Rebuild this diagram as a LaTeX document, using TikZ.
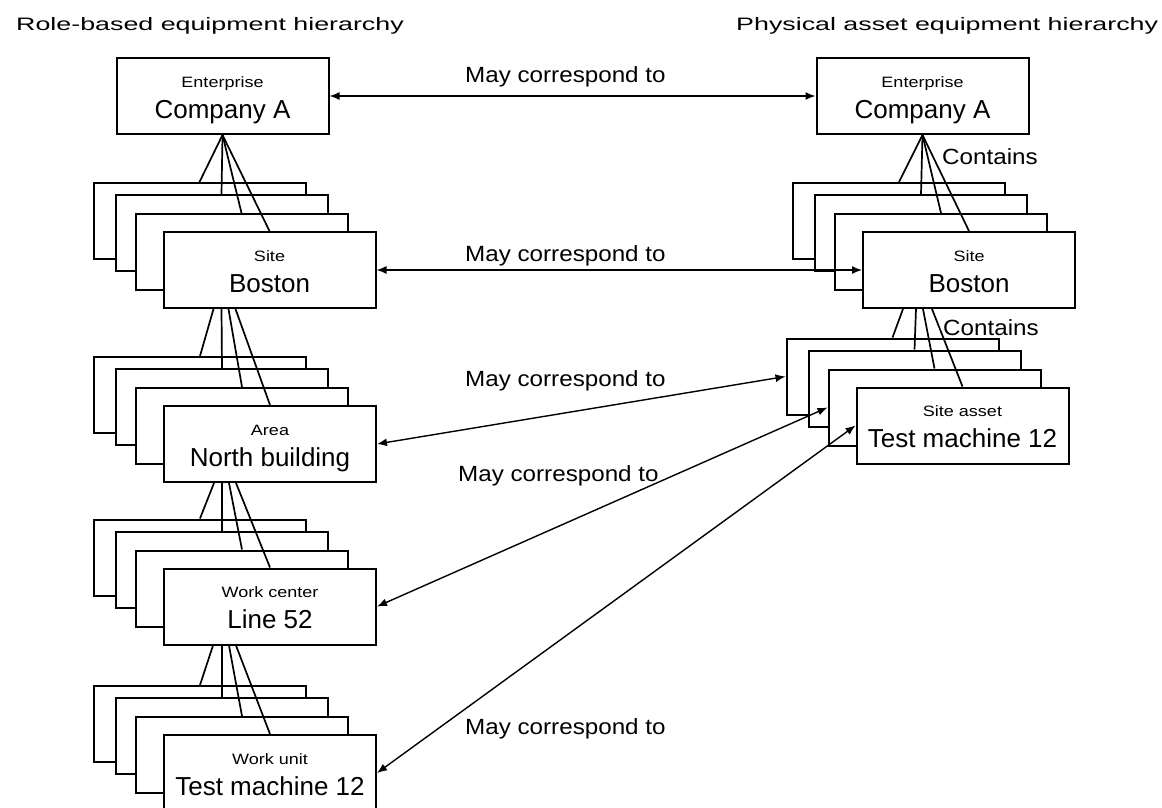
\documentclass[tikz,border=0pt]{standalone}
\usepackage{fontspec}
\setmainfont{Liberation Sans}
\newfontfamily\titlefont[FakeStretch=1.49]{Liberation Sans}
\newfontfamily\kindfont[FakeStretch=1.2]{Liberation Sans}
\newfontfamily\notefont[FakeStretch=1.1]{Liberation Sans}
\usetikzlibrary{arrows.meta}

\tikzset{
    card/.style={draw, fill=white, line width=2pt, inner sep=0pt,
        minimum width=212pt, minimum height=76pt},
    link/.style={line width=1.7pt},
    corr/.style={{Latex[length=10pt,width=8pt]}-{Latex[length=10pt,width=8pt]}, line width=1.4pt},
    note/.style={font={\notefont\fontsize{22}{26}\selectfont}, inner sep=0pt, anchor=base west},
    heading/.style={font={\titlefont\fontsize{18}{22}\selectfont}, inner sep=0pt, anchor=base west}
}

% kind of equipment above, its name below
\newcommand{\cardtext}[2]{\smash{%
    \makebox[0pt]{\raisebox{8.6pt}{\kindfont\fontsize{15}{15}\selectfont #1}}%
    \makebox[0pt]{\raisebox{-22.3pt}{\fontsize{26}{26}\selectfont #2}}}}

% a card with three more cards behind it
\newcommand{\cardstack}[4]{%
    \foreach \dx/\dy/\k in {-70/-49/1,-48/-37/2,-28/-18/3}
        { \node[card] (#1\k) at ([shift={(\dx,\dy)}]#2,#3) {}; }
    \node[card] (#1) at (#2,#3) {#4};}

\begin{document}
\begin{tikzpicture}[x=1pt,y=-1pt]
    \useasboundingbox (0,0) rectangle (1162,807);

    \node[heading] (titleL) at (16,30) {Role-based equipment hierarchy};
    \node[heading] (titleR) at (736,30) {Physical asset equipment hierarchy};

    % role-based side
    \node[card] (entL) at (222.5,96) {\cardtext{Enterprise}{Company A}};
    \cardstack{siteL}{269.5}{270}{\cardtext{Site}{Boston}}
    \cardstack{areaL}{270}{444}{\cardtext{Area}{North building}}
    \cardstack{wcL}{270}{606.5}{\cardtext{Work center}{Line 52}}
    \cardstack{wuL}{270}{773}{\cardtext{Work unit}{Test machine 12}}

    % physical asset side
    \node[card] (entR) at (922.5,96) {\cardtext{Enterprise}{Company A}};
    \cardstack{siteR}{969}{270}{\cardtext{Site}{Boston}}
    \cardstack{assetR}{962.5}{425.5}{\cardtext{Site asset}{Test machine 12}}

    % containment lines
    \foreach \sx/\tgt in {0/siteL1,0/siteL2,0/siteL3,0/siteL}
        { \draw[link] ([xshift=\sx]entL.south) -- (\tgt.north); }
    \foreach \sx/\tgt in {-56/areaL1,-48/areaL2,-41/areaL3,-34/areaL}
        { \draw[link] ([xshift=\sx]siteL.south) -- (\tgt.north); }
    \foreach \sx/\tgt in {-56/wcL1,-48/wcL2,-41/wcL3,-34/wcL}
        { \draw[link] ([xshift=\sx]areaL.south) -- (\tgt.north); }
    \foreach \sx/\tgt in {-57/wuL1,-48/wuL2,-41/wuL3,-34/wuL}
        { \draw[link] ([xshift=\sx]wcL.south) -- (\tgt.north); }
    \foreach \sx/\tgt in {0/siteR1,0/siteR2,0/siteR3,0/siteR}
        { \draw[link] ([xshift=\sx]entR.south) -- (\tgt.north); }
    \foreach \sx/\tgt in {-66/assetR1,-53/assetR2,-46/assetR3,-37/assetR}
        { \draw[link] ([xshift=\sx]siteR.south) -- (\tgt.north); }

    \node[note] (contains1) at (942,164) {Contains};
    \node[note] (contains2) at (943,335) {Contains};

    % correspondences
    \draw[corr] (entL.east) -- (entR.west);
    \draw[corr] (siteL.east) -- (siteR.west);
    \draw[corr] (areaL.east) -- (assetR1.west);
    \draw[corr] (wcL.east) -- (assetR3.west);
    \draw[corr] (wuL.east) -- (assetR.west);

    \node[note] (may1) at (465,82) {May correspond to};
    \node[note] (may2) at (465,261) {May correspond to};
    \node[note] (may3) at (465,386) {May correspond to};
    \node[note] (may4) at (458,481) {May correspond to};
    \node[note] (may5) at (465,734) {May correspond to};
\end{tikzpicture}
\end{document}
